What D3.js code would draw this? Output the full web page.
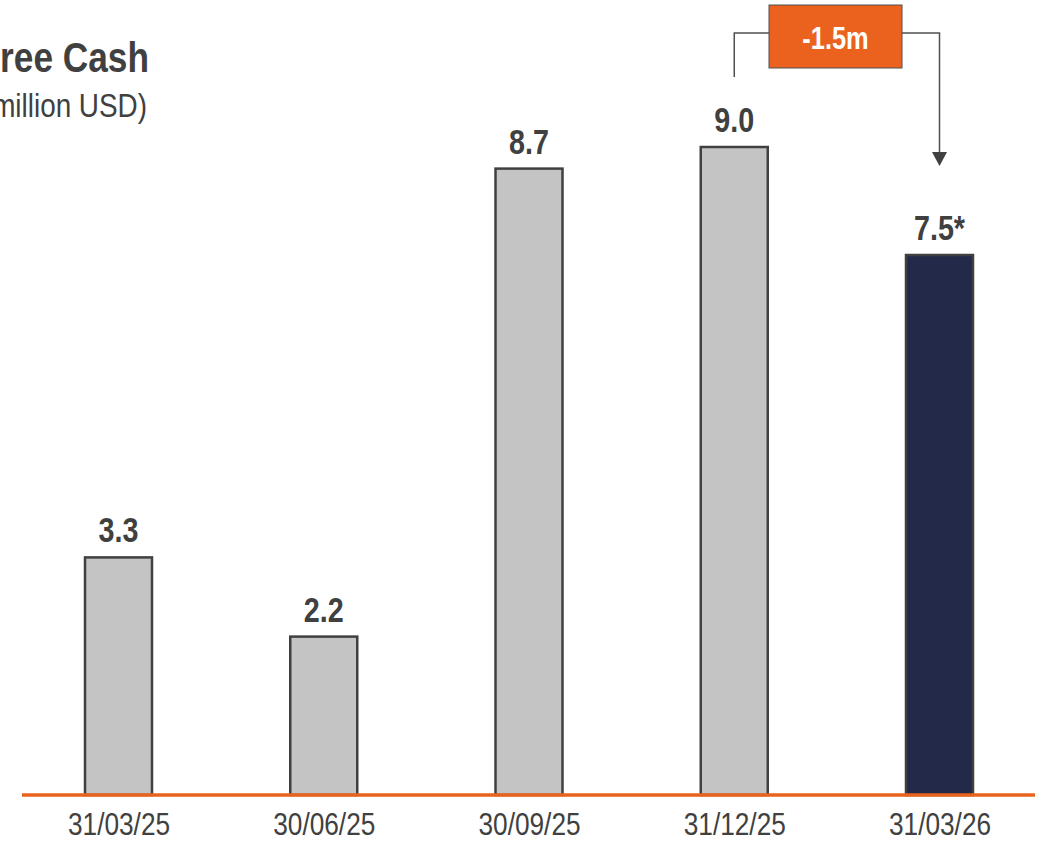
<!DOCTYPE html>
<html>
<head>
<meta charset="utf-8">
<script src="https://cdn.jsdelivr.net/npm/d3@7"></script>
<style>
  html, body { margin: 0; padding: 0; background: #ffffff; }
  svg { display: block; }
  text { font-family: "Liberation Sans", Arial, sans-serif; fill: #404040; }
</style>
</head>
<body>
<svg id="chart" width="1040" height="841"></svg>
<script>
// Free cash at each quarter end (million USD)
const periods = ["31/03/25", "30/06/25", "30/09/25", "31/12/25", "31/03/26"];
const freeCash = [3.3, 2.2, 8.7, 9.0, 7.5];
const valueLabels = ["3.3", "2.2", "8.7", "9.0", "7.5*"];
const titleText = "Free Cash";
const unitText = "(million USD)";

const W = 1040, H = 841;
const NARROW = 0.82; // horizontal squeeze giving a narrow-face look
const svg = d3.select("#chart");

const x = d3.scalePoint().domain(periods).range([118.5, 939.5]);
const y = d3.scaleLinear().domain([0, 10]).range([795, 75]);
const barW = 67;
const lastIdx = periods.length - 1;

// place a condensed text at (px, py)
function narrowText(sel, px, py) {
  return sel.attr("x", 0).attr("y", 0)
    .attr("transform", `translate(${px},${py}) scale(${NARROW},1)`);
}

// bars
svg.append("g").selectAll("rect")
  .data(periods)
  .join("rect")
  .attr("x", d => x(d) - barW / 2)
  .attr("y", (d, i) => y(freeCash[i]))
  .attr("width", barW)
  .attr("height", (d, i) => y(0) - y(freeCash[i]))
  .attr("fill", (d, i) => i === lastIdx ? "#232949" : "#c4c4c4")
  .attr("stroke", "#404040")
  .attr("stroke-width", 2.5);

// baseline
svg.append("line")
  .attr("x1", 22).attr("x2", 1035)
  .attr("y1", y(0)).attr("y2", y(0))
  .attr("stroke", "#e9631d")
  .attr("stroke-width", 3.5);

// value labels
svg.append("g").selectAll("text")
  .data(periods)
  .join("text")
  .each(function (d, i) {
    narrowText(d3.select(this), x(d), y(freeCash[i]) - 15);
  })
  .attr("text-anchor", "middle")
  .attr("font-size", 35)
  .attr("font-weight", "bold")
  .text((d, i) => valueLabels[i]);

// category axis labels
const xAxis = d3.axisBottom(x).tickSize(0).tickPadding(0);
const axisG = svg.append("g")
  .attr("transform", `translate(0, ${y(0)})`)
  .call(xAxis);
axisG.select(".domain").remove();
axisG.attr("font-family", null).attr("font-size", null);
axisG.selectAll("text")
  .attr("dy", null)
  .attr("y", 40)
  .attr("transform", `scale(${NARROW},1)`)
  .attr("font-size", 32)
  .style("fill", "#404040");

// title, running off the left edge
narrowText(svg.append("text"), 149, 72)
  .attr("text-anchor", "end")
  .attr("font-size", 43)
  .attr("font-weight", "bold")
  .text(titleText);
narrowText(svg.append("text"), 147, 117)
  .attr("text-anchor", "end")
  .attr("font-size", 34)
  .text(unitText);

// change annotation between the last two periods
const fromX = x(periods[lastIdx - 1]);
const toX = x(periods[lastIdx]);
const lineY = 33;
const boxX0 = 769, boxX1 = 902, boxY0 = 5, boxY1 = 68;
const change = freeCash[lastIdx] - freeCash[lastIdx - 1];

const ann = svg.append("g")
  .attr("fill", "none")
  .attr("stroke", "#505050")
  .attr("stroke-width", 1.5);
ann.append("path")
  .attr("d", `M${fromX},${y(freeCash[lastIdx - 1]) - 70} V${lineY} H${boxX0}`);
ann.append("path")
  .attr("d", `M${boxX1},${lineY} H${toX} V${y(freeCash[lastIdx]) - 103}`);
svg.append("path")
  .attr("d", `M${toX - 7.5},${y(freeCash[lastIdx]) - 103} L${toX + 7.5},${y(freeCash[lastIdx]) - 103} L${toX},${y(freeCash[lastIdx]) - 89} Z`)
  .attr("fill", "#404040");

svg.append("rect")
  .attr("x", boxX0).attr("y", boxY0)
  .attr("width", boxX1 - boxX0).attr("height", boxY1 - boxY0)
  .attr("fill", "#eb621f")
  .attr("stroke", "#505050")
  .attr("stroke-width", 1);
narrowText(svg.append("text"), (boxX0 + boxX1) / 2, 49)
  .attr("text-anchor", "middle")
  .attr("font-size", 31)
  .attr("font-weight", "bold")
  .style("fill", "#ffffff")
  .text(`${change.toFixed(1)}m`);
</script>
</body>
</html>
